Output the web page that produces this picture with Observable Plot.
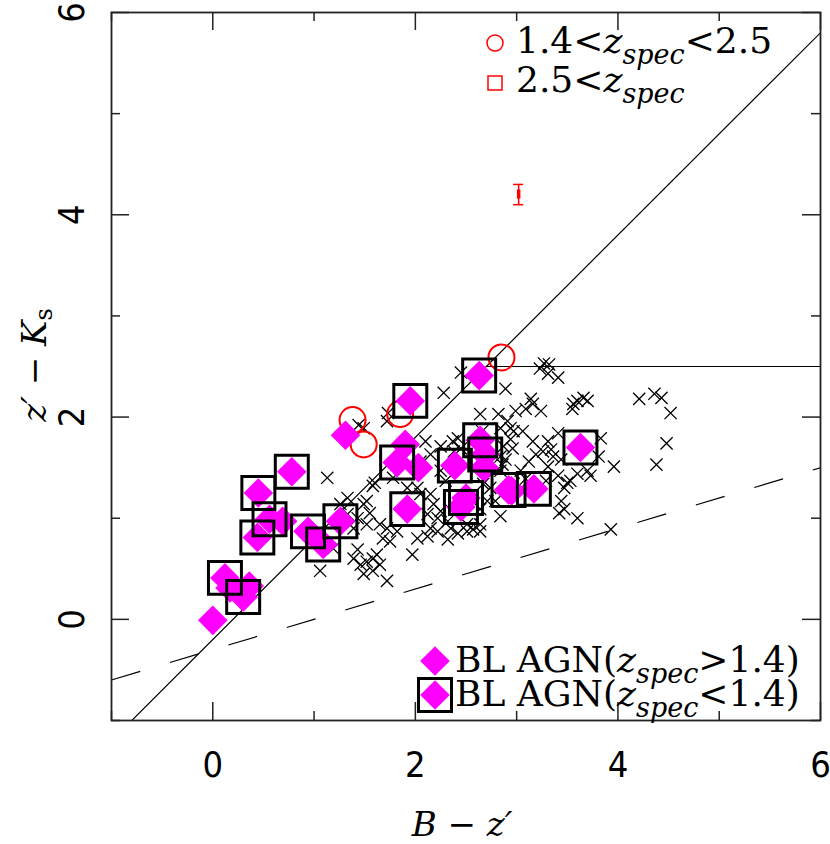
<!DOCTYPE html>
<html><head><meta charset="utf-8">
<script src="https://cdn.jsdelivr.net/npm/d3@7"></script>
<script src="https://cdn.jsdelivr.net/npm/@observablehq/plot@0.6"></script>
<style>body{margin:0;background:#fff}</style>
</head><body><div id="chart"></div>
<script>
// Field objects (B - z', z' - Ks)
const crossX = [3.27,3.32,3.23,3.31,3.41,2.89,2.45,2.28,3.14,3.16,3.09,2.99,3.24,2.82,2.64,2.91,3.56,3.60,3.66,3.70,3.55,4.21,4.36,4.43,4.52,4.48,4.38,3.96,3.83,3.81,2.94,2.97,3.06,2.94,2.96,3.16,2.89,3.12,3.26,3.34,3.41,3.36,3.44,3.31,3.19,3.31,3.41,3.47,3.50,3.60,3.70,3.73,3.44,3.47,3.60,3.42,3.93,2.64,2.57,2.64,2.51,3.53,3.29,3.04,3.09,
1.49,1.72,1.73,1.44,2.42,2.37,2.38,2.45,2.66,2.84,2.87,1.60,1.78,2.15,2.86,1.13,
1.33,1.26,1.49,1.43,1.55,1.52,1.33,1.39,1.19,1.43,1.39,1.46,1.52,1.62,1.58,1.49,1.65,1.06,1.72,1.97,1.65,1.68,1.72,1.82,1.75,1.58,1.52,1.58,2.02,2.12,2.15,2.22,2.32,2.35,2.42,2.51,2.64,2.12,2.22,2.25,2.32,2.02,2.05,2.15,2.18,1.92,2.67,2.74,2.71,2.97,2.05,2.25,2.30,2.84,2.79,2.84,2.25,2.10,2.84];
const crossY = [2.53,2.52,2.48,2.43,2.39,2.28,2.44,2.24,2.18,2.13,2.08,2.06,2.06,2.03,2.03,1.96,2.13,2.16,2.19,2.16,2.08,2.18,2.23,2.19,2.04,1.74,1.53,1.51,1.79,1.61,1.89,1.86,1.86,1.78,1.69,1.76,1.58,1.56,1.66,1.68,1.84,1.61,1.58,1.76,1.63,1.51,1.42,1.30,1.35,1.44,1.47,1.42,1.17,1.09,1.00,1.05,0.89,1.09,0.89,0.87,0.94,1.37,1.37,1.47,1.39,
1.89,1.96,2.04,1.92,1.79,1.76,1.66,1.69,1.86,1.89,1.71,1.35,1.40,1.63,1.53,1.40,
1.20,1.14,1.14,1.00,1.05,0.94,1.04,0.90,0.70,0.69,0.60,0.54,0.57,0.64,0.48,0.45,0.54,0.48,0.38,0.64,0.94,0.80,0.90,0.87,0.77,1.32,1.17,0.60,0.80,0.82,0.90,0.87,0.79,0.90,0.85,0.87,0.94,1.04,1.00,1.07,0.97,1.30,1.24,1.24,1.14,1.30,1.34,1.30,1.17,1.34,1.56,1.47,1.37,1.47,1.17,1.02,1.71,1.76,1.61];

// 1.4 < z_spec < 2.5 (red circles)
const circX = [1.38,1.49,1.85,2.85];
const circY = [1.97,1.73,2.03,2.59];

// BL AGN z_spec > 1.4 (diamonds only)
const hiX = [0.00,0.17,0.36,1.31,0.69,1.90,2.03,2.68,2.95];
const hiY = [-0.01,0.31,0.33,1.82,0.97,1.73,1.50,1.50,1.27];

// BL AGN z_spec < 1.4 (boxed diamonds)
const loX = [0.12,0.30,0.44,0.45,0.56,0.78,0.94,1.09,1.26,1.82,1.95,1.92,2.39,2.45,2.50,2.63,2.64,2.69,2.92,3.17,3.63];
const loY = [0.41,0.22,0.81,1.25,0.99,1.46,0.87,0.74,0.97,1.55,2.16,1.09,1.52,1.11,1.20,2.41,1.77,1.63,1.28,1.29,1.70];

// typical error bar
const errBar = [{x: 3.02, y: 4.2, err: 0.1, core: 0.045, cap: 0.05}];

// selection lines: y = slope*x + intercept over [xStart, xEnd]
const cuts = [
  {xStart: -1, xEnd: 6, slope: 1, intercept: -0.2, dashed: false},
  {xStart: 2.7, xEnd: 6, slope: 0, intercept: 2.5, dashed: false},
  {xStart: -1, xEnd: 6, slope: 0.3, intercept: -0.3, dashed: true}
];

const xMajor = [0,2,4,6], xMinor = [-1,1,3,5];
const yMajor = [0,2,4,6], yMinor = [-1,1,3,5];

const W = 830, H = 844, mL = 111, mR = 10, mT = 12, mB = 124;
const fw = W - mL - mR, fh = H - mT - mB;

const crosses = crossX.map((x,i)=>({x, y: crossY[i]}));
const circles = circX.map((x,i)=>({x, y: circY[i]}));
const hi = hiX.map((x,i)=>({x, y: hiY[i]}));
const lo = loX.map((x,i)=>({x, y: loY[i]}));
const allDiam = hi.concat(lo);

const tickFont = "'Liberation Sans Narrow','DejaVu Sans Condensed',sans-serif";

const plot = Plot.plot({
  width: W, height: H,
  marginLeft: mL, marginRight: mR, marginTop: mT, marginBottom: mB,
  x: {domain: [-1, 6], axis: null},
  y: {domain: [-1, 6], axis: null},
  style: {background: "#fff"},
  marks: [
    Plot.link(cuts.filter(d=>!d.dashed), {x1: "xStart", x2: "xEnd", y1: d=>d.slope*d.xStart+d.intercept, y2: d=>d.slope*d.xEnd+d.intercept, stroke: "#000", strokeWidth: 1.2, clip: true}),
    Plot.link(cuts.filter(d=>d.dashed), {x1: "xStart", x2: "xEnd", y1: d=>d.slope*d.xStart+d.intercept, y2: d=>d.slope*d.xEnd+d.intercept, stroke: "#000", strokeWidth: 1.2, strokeDasharray: "30,31", clip: true}),
    Plot.dot(crosses, {x: "x", y: "y", symbol: "times", r: 5.6, stroke: "#000", strokeWidth: 1.3}),
    Plot.dot(circles, {x: "x", y: "y", r: 13, stroke: "#ff0000", strokeWidth: 2, fill: "none"}),
    Plot.dot(allDiam, {x: "x", y: "y", symbol: "square", r: 11.8, rotate: 45, fill: "#ff00ff", stroke: "none"}),
    Plot.dot(lo, {x: "x", y: "y", symbol: "square", r: 18.6, fill: "none", stroke: "#000", strokeWidth: 3}),
    // error bar
    Plot.ruleX(errBar, {x: "x", y1: d=>d.y-d.err, y2: d=>d.y+d.err, stroke: "#ff0000", strokeWidth: 1.5}),
    Plot.ruleX(errBar, {x: "x", y1: d=>d.y-d.core, y2: d=>d.y+d.core, stroke: "#ff0000", strokeWidth: 3.5}),
    Plot.ruleY(errBar, {y: d=>d.y+d.err, x1: d=>d.x-d.cap, x2: d=>d.x+d.cap, stroke: "#ff0000", strokeWidth: 1.5}),
    Plot.ruleY(errBar, {y: d=>d.y-d.err, x1: d=>d.x-d.cap, x2: d=>d.x+d.cap, stroke: "#ff0000", strokeWidth: 1.5}),
    // inward ticks on all four sides
    Plot.ruleX(xMajor, {insetTop: fh-18, stroke: "#222", strokeWidth: 1.5}),
    Plot.ruleX(xMajor, {insetBottom: fh-18, stroke: "#222", strokeWidth: 1.5}),
    Plot.ruleX(xMinor, {insetTop: fh-9, stroke: "#222", strokeWidth: 1.5}),
    Plot.ruleX(xMinor, {insetBottom: fh-9, stroke: "#222", strokeWidth: 1.5}),
    Plot.ruleY(yMajor, {insetRight: fw-18, stroke: "#222", strokeWidth: 1.5}),
    Plot.ruleY(yMajor, {insetLeft: fw-18, stroke: "#222", strokeWidth: 1.5}),
    Plot.ruleY(yMinor, {insetRight: fw-9, stroke: "#222", strokeWidth: 1.5}),
    Plot.ruleY(yMinor, {insetLeft: fw-9, stroke: "#222", strokeWidth: 1.5}),
    Plot.frame({stroke: "#222", strokeWidth: 1.8}),
    Plot.axisX(xMajor, {anchor: "bottom", tickSize: 0, tickPadding: 31, label: null, tickFormat: d=>String(d), fontSize: 36, fontFamily: tickFont, fill: "#000"}),
    Plot.axisY(yMajor, {anchor: "left", tickSize: 0, tickRotate: -90, tickPadding: 28, label: null, tickFormat: d=>String(d), fontSize: 36, fontFamily: tickFont, fill: "#000"})
  ]
});
document.getElementById("chart").appendChild(plot);

const svg = d3.select(plot);
const serif = "'DejaVu Serif',serif";
function rich(parent, x, y, parts, anchor) {
  const t = parent.append("text").attr("x", x).attr("y", y).attr("text-anchor", anchor || "start").attr("fill", "#000").attr("font-family", serif).style("white-space", "pre");
  let off = 0;
  for (const p of parts) {
    const want = p.dy || 0;
    const ts = t.append("tspan").attr("font-size", p.size).attr("font-style", p.it ? "italic" : "normal").text(p.t);
    if (want !== off) { ts.attr("dy", want - off); off = want; }
  }
  return t;
}
const R = 36, S = 27;
// top legend
svg.append("circle").attr("cx", 495).attr("cy", 43).attr("r", 8).attr("fill", "none").attr("stroke", "#ff0000").attr("stroke-width", 1.5);
svg.append("rect").attr("x", 488).attr("y", 76).attr("width", 14).attr("height", 14).attr("fill", "none").attr("stroke", "#ff0000").attr("stroke-width", 1.5);
rich(svg, 516, 53, [{t:"1.4<", size:R}, {t:"z", size:R, it:true}, {t:"spec", size:S, it:true, dy:11}, {t:"<2.5", size:R}]);
rich(svg, 516, 92, [{t:"2.5<", size:R}, {t:"z", size:R, it:true}, {t:"spec", size:S, it:true, dy:11}]);
// bottom legend
const dsym = d3.symbol(d3.symbolSquare, 21*21)();
svg.append("path").attr("d", dsym).attr("transform", "translate(435,661) rotate(45)").attr("fill", "#ff00ff");
svg.append("path").attr("d", dsym).attr("transform", "translate(435,695) rotate(45)").attr("fill", "#ff00ff");
svg.append("rect").attr("x", 418.5).attr("y", 678.5).attr("width", 33).attr("height", 33).attr("fill", "none").attr("stroke", "#000").attr("stroke-width", 3);
rich(svg, 455, 672, [{t:"BL AGN(", size:R}, {t:"z", size:R, it:true}, {t:"spec", size:S, it:true, dy:11}, {t:">1.4)", size:R}]);
rich(svg, 455, 706, [{t:"BL AGN(", size:R}, {t:"z", size:R, it:true}, {t:"spec", size:S, it:true, dy:11}, {t:"<1.4)", size:R}]);
// axis titles
rich(svg, 462, 836, [{t:"B", size:34, it:true}, {t:"\u00a0\u2212\u00a0", size:34}, {t:"z\u2032", size:34, it:true}], "middle");
const yg = svg.append("g").attr("transform", "translate(46,365) rotate(-90)");
rich(yg, 0, 0, [{t:"z\u2032", size:34, it:true}, {t:"\u00a0\u2212\u00a0", size:34}, {t:"K", size:34, it:true}, {t:"s", size:24, dy:6}], "middle");
</script>
</body></html>
